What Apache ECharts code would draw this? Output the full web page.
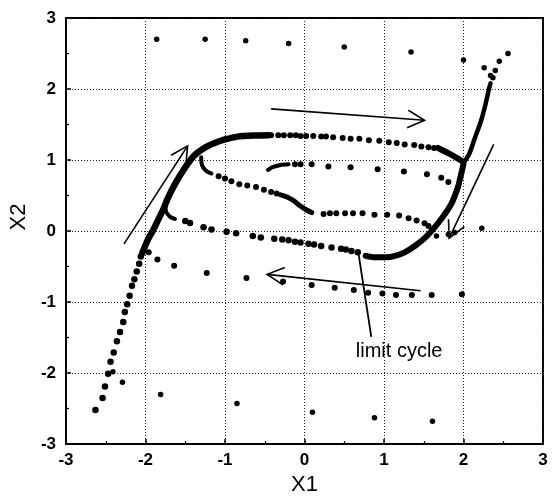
<!DOCTYPE html>
<html>
<head>
<meta charset="utf-8">
<script src="https://cdn.jsdelivr.net/npm/echarts@6.0.0/dist/echarts.min.js"></script>
<style>
html,body{margin:0;padding:0;background:#fff;}
#chart{width:552px;height:501px;}
</style>
</head>
<body>
<div id="chart"></div>
<script>
// ---- tick labels ----
const xTicks = [-3, -2, -1, 0, 1, 2, 3];
const yTicks = [-3, -2, -1, 0, 1, 2, 3];

// ---- thick parts of the limit cycle (dense trajectory) ----
const leftBranch = [[-2.03,-0.28],[-1.97,-0.12],[-1.91,0.0],[-1.84,0.16],[-1.78,0.3],[-1.72,0.46],[-1.63,0.66],[-1.51,0.88],[-1.39,1.06],[-1.26,1.17],[-1.13,1.24],[-1.0,1.29],[-0.84,1.33],[-0.63,1.345],[-0.45,1.35]];
const rightBranch = [[1.68,1.17],[1.82,1.09],[1.93,1.02],[2.0,0.96],[1.97,0.8],[1.93,0.62],[1.85,0.39],[1.72,0.17],[1.54,-0.07],[1.40,-0.2],[1.26,-0.3],[1.14,-0.35],[1.02,-0.37],[0.88,-0.37],[0.77,-0.35]];
const upperRight = [[2.0,0.96],[2.07,1.08],[2.14,1.3],[2.22,1.55],[2.28,1.8],[2.32,2.0],[2.34,2.08]];

// ---- short dense hooks ----
const hookT1 = [[-1.30,1.04],[-1.29,0.93],[-1.24,0.85],[-1.17,0.81]];
const denseT1 = [[-0.30,0.51],[-0.22,0.48],[-0.14,0.43],[-0.06,0.36],[0.02,0.30],[0.09,0.26]];
const hookT2 = [[-0.46,0.86],[-0.40,0.90],[-0.30,0.93],[-0.20,0.94]];
const hookT3 = [[-1.75,0.38],[-1.74,0.27],[-1.69,0.20],[-1.63,0.17]];

// ---- sampled points (dots) ----
const topOuterDots = [[-1.86,2.70],[-1.25,2.70],[-0.74,2.68],[-0.2,2.64],[0.5,2.59],[1.34,2.52],[2.0,2.41]];
const upperRightDots = [[2.37,2.16],[2.34,2.19],[2.40,2.26],[2.26,2.30],[2.45,2.39],[2.56,2.50]];
const cycleTopDots = [[-0.42,1.35],[-0.33,1.35],[-0.26,1.35],[-0.18,1.35],[-0.11,1.35],[-0.05,1.34],[0.02,1.34],[0.11,1.34],[0.21,1.33],[0.27,1.33],[0.36,1.32],[0.48,1.31],[0.58,1.30],[0.69,1.30],[0.81,1.28],[0.94,1.27],[1.06,1.25],[1.16,1.24],[1.26,1.22],[1.38,1.21],[1.47,1.19],[1.56,1.18],[1.63,1.17]];
const t1Dots = [[-1.08,0.77],[-1.0,0.74],[-0.92,0.70],[-0.82,0.66],[-0.72,0.64],[-0.61,0.62],[-0.51,0.58],[-0.42,0.55],[-0.35,0.53]];
const t1OuterDots = [[0.24,0.24],[0.32,0.25],[0.40,0.25],[0.51,0.25],[0.61,0.25],[0.73,0.25],[0.88,0.23],[1.04,0.23],[1.19,0.22],[1.31,0.18],[1.41,0.15],[1.51,0.11],[1.56,0.07]];
const t2Dots = [[-0.12,0.94],[-0.05,0.94],[0.09,0.94],[0.30,0.91],[0.58,0.90],[0.92,0.87],[1.25,0.84],[1.54,0.80],[1.72,0.75],[1.81,0.69]];
const cycleBottomDots = [[-1.50,0.14],[-1.44,0.115],[-1.27,0.055],[-1.17,0.023],[-0.98,-0.01],[-0.86,-0.03],[-0.65,-0.07],[-0.55,-0.09],[-0.38,-0.11],[-0.28,-0.12],[-0.20,-0.13],[-0.12,-0.15],[-0.05,-0.16],[0.05,-0.18],[0.12,-0.19],[0.21,-0.21],[0.34,-0.23],[0.46,-0.25],[0.52,-0.26],[0.59,-0.28],[0.67,-0.30]];
const lowerTrajDots = [[-1.96,-0.30],[-1.85,-0.40],[-1.64,-0.49],[-1.23,-0.59],[-0.73,-0.66],[-0.27,-0.71],[0.09,-0.76],[0.38,-0.80],[0.62,-0.83],[0.80,-0.87],[0.98,-0.88],[1.15,-0.90],[1.35,-0.90],[1.60,-0.90],[1.98,-0.89]];
const leftDescDots = [[-2.04,-0.31],[-2.06,-0.36],[-2.08,-0.46],[-2.11,-0.57],[-2.14,-0.68],[-2.17,-0.77],[-2.20,-0.91],[-2.23,-1.03],[-2.26,-1.14],[-2.28,-1.28],[-2.32,-1.42],[-2.36,-1.55],[-2.40,-1.71],[-2.44,-1.84],[-2.47,-2.01],[-2.51,-2.19],[-2.54,-2.35],[-2.63,-2.52]];
const bottomOuterDots = [[-2.41,-1.98],[-2.29,-2.13],[-1.81,-2.30],[-0.85,-2.43],[0.10,-2.55],[0.88,-2.63],[1.61,-2.68]];
const rightInnerDots = [[2.23,0.04],[1.89,-0.02],[1.81,-0.05],[1.66,-0.07]];

// ---- arrows [x1, y1, x2(tip), y2(tip)] ----
const arrows = [[-0.42,1.72,1.51,1.56],[2.38,1.22,1.82,-0.10],[1.46,-0.84,-0.47,-0.61],[-2.27,-0.18,-1.47,1.20]];

// ---- annotation ----
const leaderLine = [[0.68,-0.32],[0.84,-1.49]];
const annotationPos = [[1.19,-1.70]];
const annotationText = 'limit cycle';

function thick(data, w) {
  return { type:'line', data, symbol:'none', smooth:0.25, z:3, silent:true,
    lineStyle:{ color:'#000', width:w, cap:'round', join:'round', opacity:1 } };
}
function dots(data, s) {
  return { type:'scatter', data, symbol:'circle', symbolSize:s, z:4, silent:true,
    itemStyle:{ color:'#000', opacity:1 } };
}

const chart = echarts.init(document.getElementById('chart'), null, {renderer:'canvas'});
const tickFont = { fontFamily:'Liberation Sans, Arial, sans-serif', fontWeight:'bold', fontSize:17, color:'#000' };
const axisCommon = {
  type:'value', min:-3, max:3, interval:1,
  axisLine:{ show:true, onZero:false, lineStyle:{ color:'#000', width:2 } },
  axisTick:{ show:true, inside:true, length:5, lineStyle:{ color:'#000', width:1.5 } },
  minorTick:{ show:true, splitNumber:2, length:3, lineStyle:{ color:'#000', width:1.2 } },
  splitLine:{ show:true, lineStyle:{ color:'#222', width:1, type:[1,2] } },
  minorSplitLine:{ show:false }
};
chart.setOption({
  animation:false,
  backgroundColor:'#fff',
  grid:{ left:59, right:9, top:18, bottom:49, show:true, borderColor:'#000', borderWidth:2, backgroundColor:'transparent' },
  xAxis: Object.assign({}, axisCommon, {
    name:'X1', nameLocation:'middle', nameGap:26,
    nameTextStyle:{ fontFamily:'Liberation Sans, Arial, sans-serif', fontSize:22, color:'#000' },
    axisLabel:Object.assign({ margin:8, formatter:(v)=> xTicks.includes(v) ? String(v) : '' }, tickFont)
  }),
  yAxis: Object.assign({}, axisCommon, {
    name:'X2', nameLocation:'middle', nameGap:29,
    nameTextStyle:{ fontFamily:'Liberation Sans, Arial, sans-serif', fontSize:22, color:'#000', padding:[0,0,0,28] },
    axisLabel:Object.assign({ margin:10, formatter:(v)=> yTicks.includes(v) ? String(v) : '' }, tickFont)
  }),
  series:[
    thick(leftBranch, 6.5),
    thick(rightBranch, 6),
    thick(upperRight, 4.5),
    thick(hookT1, 4),
    thick(denseT1, 5),
    thick(hookT2, 4),
    thick(hookT3, 4),
    dots(topOuterDots, 5.5),
    dots(upperRightDots, 5.5),
    dots(cycleTopDots, 6),
    dots(t1Dots, 6),
    dots(t1OuterDots, 6),
    dots(t2Dots, 6),
    dots(cycleBottomDots, 6.5),
    dots(lowerTrajDots, 6),
    dots(leftDescDots, 6.5),
    dots(bottomOuterDots, 5.5),
    dots(rightInnerDots, 5.5),
    { type:'line', data:leaderLine, symbol:'none', z:5, silent:true, lineStyle:{ color:'#000', width:1.8, opacity:1 } },
    { type:'custom', data:arrows, z:5, silent:true,
      encode:{ x:[0,2], y:[1,3] },
      renderItem:function(params, api){
        const p1 = api.coord([api.value(0), api.value(1)]);
        const p2 = api.coord([api.value(2), api.value(3)]);
        const ang = Math.atan2(p2[1]-p1[1], p2[0]-p1[0]);
        const L = 19, a = 0.48;
        const w1 = [p2[0]-L*Math.cos(ang-a), p2[1]-L*Math.sin(ang-a)];
        const w2 = [p2[0]-L*Math.cos(ang+a), p2[1]-L*Math.sin(ang+a)];
        return { type:'group', children:[
          { type:'line', shape:{ x1:p1[0], y1:p1[1], x2:p2[0], y2:p2[1] }, style:{ stroke:'#000', lineWidth:1.6 } },
          { type:'polyline', shape:{ points:[w1, p2, w2] }, style:{ stroke:'#000', fill:null, lineWidth:1.6 } }
        ]};
      }
    },
    { type:'scatter', data:annotationPos, symbolSize:1, z:6, silent:true,
      itemStyle:{ color:'rgba(0,0,0,0)', opacity:1 },
      label:{ show:true, position:'inside', formatter:annotationText,
        fontFamily:'Liberation Sans, Arial, sans-serif', fontSize:20, color:'#000' } }
  ]
});
</script>
</body>
</html>
